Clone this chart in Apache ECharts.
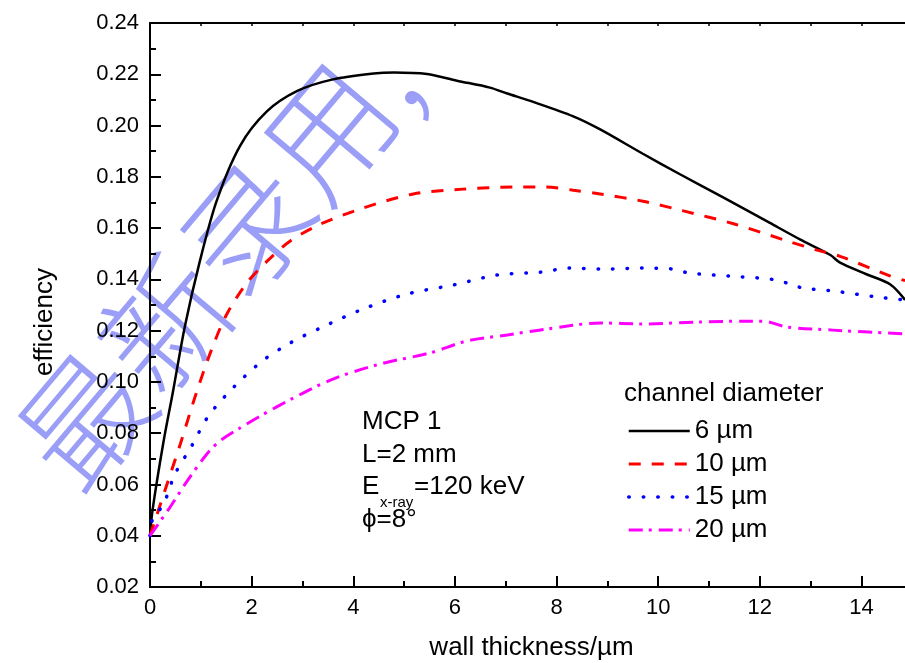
<!DOCTYPE html>
<html>
<head>
<meta charset="utf-8">
<script src="https://cdn.jsdelivr.net/npm/echarts@6/dist/echarts.min.js"></script>
<style>
  html, body { margin: 0; padding: 0; background: #fff; }
  #chart { width: 905px; height: 663px; }
</style>
</head>
<body>
<div id="chart"></div>
<script>
// efficiency vs wall thickness
var d6 = [[0, 0.040], [0.05, 0.050], [0.26, 0.076], [0.45, 0.096], [0.69, 0.122], [0.98, 0.147],
  [1.31, 0.1705], [1.77, 0.192], [2.3, 0.2055], [2.9, 0.2135], [3.6, 0.218], [4.4, 0.2203],
  [4.8, 0.2207], [5.45, 0.2201], [6.04, 0.2175], [6.69, 0.2148], [7.03, 0.2125], [7.5, 0.2095],
  [8.33, 0.2036], [8.86, 0.1985], [9.7, 0.189], [10.43, 0.181], [11.28, 0.172], [12.2, 0.162],
  [12.8, 0.1555], [13.39, 0.1495], [13.58, 0.1465], [14.1, 0.142], [14.57, 0.138], [14.86, 0.132]];
var d10 = [[0, 0.040], [0.3, 0.058], [0.6, 0.076], [0.9, 0.095], [1.2, 0.112], [1.5, 0.126],
  [1.9, 0.1385], [2.3, 0.147], [2.76, 0.155], [3.35, 0.1615], [4.19, 0.1678], [5.18, 0.1733],
  [6.16, 0.1752], [7.15, 0.176], [7.8, 0.176], [8.33, 0.1748], [8.86, 0.1733], [9.7, 0.1705],
  [10.5, 0.1667], [11.5, 0.1616], [12.54, 0.155], [13.13, 0.1514], [13.58, 0.149], [14.57, 0.1413],
  [14.86, 0.1395]];
var d15 = [[0, 0.040], [0.06, 0.047], [0.26, 0.052], [0.49, 0.064], [0.82, 0.075], [1.15, 0.0867],
  [1.64, 0.0978], [2.2, 0.108], [2.76, 0.1152], [3.35, 0.121], [4.19, 0.1284], [5.06, 0.1343],
  [5.97, 0.1378], [6.83, 0.1417], [7.68, 0.1428], [8.27, 0.1444], [8.86, 0.144], [9.7, 0.1444],
  [10.3, 0.144], [10.6, 0.1425], [11.4, 0.1413], [12.0, 0.1405], [12.3, 0.1398], [12.6, 0.1382],
  [12.85, 0.1366], [13.44, 0.1355], [14.31, 0.1331], [14.86, 0.132]];
var d20 = [[0, 0.040], [0.39, 0.051], [0.73, 0.0613], [1.12, 0.0719], [1.38, 0.077], [1.77, 0.082],
  [2.17, 0.0867], [2.82, 0.0937], [3.6, 0.1011], [4.53, 0.107], [5.51, 0.1113], [6.24, 0.116],
  [7.03, 0.1183], [7.8, 0.1206], [8.86, 0.123], [9.7, 0.1226], [10.83, 0.1234], [11.75, 0.1237],
  [12.1, 0.1236], [12.54, 0.1214], [13.44, 0.1202], [14.86, 0.1187]];
var names = ['6 µm', '10 µm', '15 µm', '20 µm'];

var font = 'Liberation Sans, Arial, sans-serif';
var myChart = echarts.init(document.getElementById('chart'));

function mkSeries(name, data, color, width, type, cap) {
    return {
        name: name,
        type: 'line',
        data: data,
        symbol: 'none',
        smooth: 0.3,
        lineStyle: { color: color, width: width, type: type, cap: cap || 'butt' },
        itemStyle: { color: color }
    };
}

var axisBlack = { lineStyle: { color: '#000', width: 2 } };

var option = {
    animation: false,
    backgroundColor: '#fff',
    grid: { left: 150, right: -58, top: 23, bottom: 76, containLabel: false, outerBoundsMode: 'none' },
    legend: {
        orient: 'vertical',
        left: 622,
        top: 413,
        itemWidth: 61,
        itemHeight: 14,
        itemGap: 7,
        data: [
            { name: names[0], lineStyle: { width: 2.5 } },
            { name: names[1], lineStyle: { width: 3 } },
            { name: names[2], lineStyle: { width: 3.5 } },
            { name: names[3], lineStyle: { width: 3 } }
        ],
        itemStyle: { opacity: 0 },
        textStyle: { fontFamily: font, fontSize: 26, color: '#000' }
    },
    xAxis: [{
        type: 'value',
        position: 'bottom',
        min: 0,
        max: 16,
        interval: 2,
        name: 'wall thickness/µm',
        nameLocation: 'middle',
        nameGap: 48,
        nameTextStyle: { fontFamily: font, fontSize: 26, color: '#000', padding: [0, 50, 0, 0] },
        axisLine: axisBlack,
        axisTick: { inside: true, length: 11, lineStyle: { color: '#000', width: 2 } },
        minorTick: { show: true, splitNumber: 2, length: 6, lineStyle: { color: '#000', width: 2 } },
        splitLine: { show: false },
        axisLabel: { fontFamily: font, fontSize: 22, color: '#000', margin: 10 }
    }, {
        type: 'value',
        position: 'top',
        min: 0,
        max: 16,
        interval: 1,
        axisLine: axisBlack,
        axisTick: { inside: true, length: 3, lineStyle: { color: '#000', width: 1.5 } },
        splitLine: { show: false },
        axisLabel: { show: false }
    }],
    yAxis: {
        type: 'value',
        min: 0.02,
        max: 0.24,
        interval: 0.02,
        name: 'efficiency',
        nameLocation: 'middle',
        nameGap: 92,
        nameTextStyle: { fontFamily: font, fontSize: 26, color: '#000', padding: [0, 0, 0, -34] },
        axisLine: axisBlack,
        axisTick: { inside: true, length: 11, lineStyle: { color: '#000', width: 2 } },
        minorTick: { show: true, splitNumber: 2, length: 6, lineStyle: { color: '#000', width: 2 } },
        splitLine: { show: false },
        axisLabel: {
            fontFamily: font, fontSize: 22, color: '#000', margin: 11,
            formatter: function (v) { return v.toFixed(2); }
        }
    },
    graphic: [{
        // watermark across the plot
        type: 'text',
        x: 44, y: 468,
        rotation: 0.87,
        z: -10,
        silent: true,
        style: {
            text: '最新录用,',
            fontFamily: 'Noto Sans CJK SC',
            fontWeight: 300,
            fontSize: 126,
            fill: '#9a9ef7',
            textAlign: 'left',
            textVerticalAlign: 'middle'
        }
    }, {
        type: 'text', left: 624, top: 381, z: 100,
        style: { text: 'channel diameter', fontFamily: font, fontSize: 26, fill: '#000' }
    }, {
        type: 'text', left: 362, top: 409, z: 100,
        style: { text: 'MCP 1', fontFamily: font, fontSize: 26, fill: '#000' }
    }, {
        type: 'text', left: 362, top: 442, z: 100,
        style: { text: 'L=2 mm', fontFamily: font, fontSize: 26, fill: '#000' }
    }, {
        type: 'text', left: 362, top: 474, z: 100,
        style: { text: 'E', fontFamily: font, fontSize: 26, fill: '#000' }
    }, {
        type: 'text', left: 380, top: 495, z: 100,
        style: { text: 'x-ray', fontFamily: font, fontSize: 15, fill: '#000' }
    }, {
        type: 'text', left: 414, top: 474, z: 100,
        style: { text: '=120 keV', fontFamily: font, fontSize: 26, fill: '#000' }
    }, {
        type: 'text', left: 362, top: 507, z: 100,
        style: { text: 'ϕ=8°', fontFamily: font, fontSize: 26, fill: '#000' }
    }],
    series: [
        mkSeries(names[0], d6, '#000000', 2.5, 'solid'),
        mkSeries(names[1], d10, '#ff0000', 3, [12, 11]),
        mkSeries(names[2], d15, '#0000ff', 3.5, [0.5, 14], 'round'),
        mkSeries(names[3], d20, '#ff00ff', 3, [14, 6, 3, 7])
    ]
};
myChart.setOption(option);
</script>
</body>
</html>
